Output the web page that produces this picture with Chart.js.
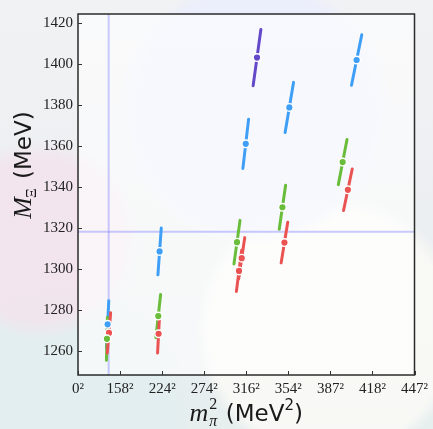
<!DOCTYPE html>
<html>
<head>
<meta charset="utf-8">
<script src="https://cdn.jsdelivr.net/npm/chart.js@4.4.1/dist/chart.umd.min.js"></script>
<style>
  html, body { margin: 0; padding: 0; }
  body {
    width: 433px; height: 429px; overflow: hidden;
    background:
      radial-gradient(circle at 255px 110px, rgba(235,238,252,0.9) 0, rgba(235,238,252,0.9) 120px, rgba(235,238,252,0) 135px),
      radial-gradient(circle at 40px 240px, rgba(244,226,236,0.8) 0, rgba(244,226,236,0.8) 80px, rgba(244,226,236,0) 100px),
      radial-gradient(circle at 330px 330px, rgba(250,250,246,0.9) 0, rgba(250,250,246,0.9) 120px, rgba(250,250,246,0) 135px),
      radial-gradient(circle at 60px 410px, rgba(226,238,240,0.9) 0, rgba(226,238,240,0.9) 110px, rgba(226,238,240,0) 130px),
      linear-gradient(180deg, #f1f2f4 0%, #eceff1 50%, #e6eeee 100%);
  }
  #wrap { position: absolute; left: 0; top: 0; width: 433px; height: 429px; }
</style>
</head>
<body>
<div id="wrap"><canvas id="c" width="433" height="429"></canvas></div>
<script>
// ---- data (x in MeV^2, y in MeV) ----
const blueX    = [17600, 48500, 99700, 125600, 165600];
const blueY    = [1273.2, 1308.7, 1361.1, 1378.8, 1401.9];
const blueYErr = [11.5, 11.4, 12.0, 12.2, 12.3];
const blueXErr = [700, 1000, 1700, 2500, 3060];

const purpleX    = [106400];
const purpleY    = [1403.1];
const purpleYErr = [13.7];
const purpleXErr = [2300];

const greenX    = [17200, 47700, 94500, 121500, 157300];
const greenY    = [1266.1, 1277.2, 1313.2, 1330.2, 1352.2];
const greenYErr = [10.4, 10.5, 10.6, 10.7, 11.0];
const greenXErr = [300, 1400, 1800, 1900, 2580];

const redX    = [18400, 47900, 95700, 97300, 122700, 160400];
const redY    = [1269.0, 1268.6, 1299.2, 1305.4, 1313.0, 1338.7];
const redYErr = [9.8, 9.4, 10.0, 10.0, 9.9, 10.1];
const redXErr = [1000, 600, 1550, 1800, 1960, 2580];

const physPionMass2 = 135 * 135;   // vertical reference line
const physXiMass    = 1318.3;      // horizontal reference line

const xTickValues = [0, 25000, 50000, 75000, 100000, 125000, 150000, 175000, 200000];
const yTickValues = [1260, 1280, 1300, 1320, 1340, 1360, 1380, 1400, 1420];

const COLORS = { blue: '#3f9ff7', purple: '#6349c9', green: '#69bd3a', red: '#eb5252' };

function makeSet(xs, ys, yerr, xerr, color) {
  return {
    data: xs.map((x, i) => ({ x: x, y: ys[i], yErr: yerr[i], xErr: xerr[i] })),
    backgroundColor: color,
    borderColor: '#ffffff',
    pointRadius: 3.8,
    pointBorderWidth: 1.4,
    pointHoverRadius: 3.8,
    showLine: false,
    errColor: color
  };
}

const errorBarPlugin = {
  id: 'errbars',
  beforeDraw(chart) {
    const { ctx, chartArea: a } = chart;
    ctx.save();
    ctx.fillStyle = 'rgba(255,255,255,0.6)';
    ctx.fillRect(a.left, a.top, a.right - a.left, a.bottom - a.top);
    ctx.restore();
  },
  beforeDatasetsDraw(chart) {
    const { ctx, chartArea: a, scales: { x, y } } = chart;
    ctx.save();
    ctx.beginPath();
    ctx.rect(a.left, a.top, a.right - a.left, a.bottom - a.top);
    ctx.clip();
    // reference lines
    ctx.strokeStyle = 'rgba(125,125,255,0.4)';
    ctx.lineWidth = 2;
    const vx = x.getPixelForValue(physPionMass2);
    ctx.beginPath(); ctx.moveTo(vx, a.top); ctx.lineTo(vx, a.bottom); ctx.stroke();
    const hy = y.getPixelForValue(physXiMass);
    ctx.beginPath(); ctx.moveTo(a.left, hy); ctx.lineTo(a.right, hy); ctx.stroke();
    // slanted error bars
    ctx.lineWidth = 3;
    ctx.lineCap = 'round';
    chart.data.datasets.forEach(ds => {
      ctx.strokeStyle = ds.errColor;
      ds.data.forEach(p => {
        ctx.beginPath();
        ctx.moveTo(x.getPixelForValue(p.x - p.xErr), y.getPixelForValue(p.y - p.yErr));
        ctx.lineTo(x.getPixelForValue(p.x + p.xErr), y.getPixelForValue(p.y + p.yErr));
        ctx.stroke();
      });
    });
    ctx.restore();
  },
  afterDraw(chart) {
    const { ctx, chartArea: a, scales: { x, y } } = chart;
    ctx.save();
    // frame
    ctx.strokeStyle = '#2b2b2b';
    ctx.lineWidth = 1.5;
    ctx.strokeRect(a.left, a.top, a.right - a.left, a.bottom - a.top);
    // inward ticks
    ctx.lineWidth = 1;
    ctx.strokeStyle = '#333';
    xTickValues.forEach(v => {
      const px = Math.round(x.getPixelForValue(v)) + 0.5;
      ctx.beginPath(); ctx.moveTo(px, a.bottom); ctx.lineTo(px, a.bottom - 4); ctx.stroke();
    });
    yTickValues.forEach(v => {
      const py = Math.round(y.getPixelForValue(v)) + 0.5;
      ctx.beginPath(); ctx.moveTo(a.left, py); ctx.lineTo(a.left + 4, py); ctx.stroke();
    });
    // axis titles
    ctx.fillStyle = '#1a1a1a';
    ctx.textBaseline = 'alphabetic';
    // x title: m_pi^2 (MeV^2)
    const fM = 'italic 26px "Liberation Serif"';
    const fSub = 'italic 16px "Liberation Serif"';
    const fSup = '16px "Liberation Serif"';
    const fSans = '23px "DejaVu Sans"';
    const fSansSup = '15px "DejaVu Sans"';
    ctx.font = fM; const wm = ctx.measureText('m').width;
    ctx.font = fSub; const wpi = ctx.measureText('π').width;
    ctx.font = fSans; const w1 = ctx.measureText(' (MeV').width; const w3 = ctx.measureText(')').width;
    ctx.font = fSansSup; const w2 = ctx.measureText('2').width;
    const total = wm + wpi + 2 + w1 + w2 + w3;
    let cx = (a.left + a.right) / 2 - total / 2;
    const by = 421;
    ctx.font = fM; ctx.fillText('m', cx, by); cx += wm + 1;
    ctx.font = fSup; ctx.fillText('2', cx, by - 12);
    ctx.font = fSub; ctx.fillText('π', cx, by + 5); cx += wpi + 1;
    ctx.font = fSans; ctx.fillText(' (MeV', cx, by); cx += w1;
    ctx.font = fSansSup; ctx.fillText('2', cx, by - 11); cx += w2;
    ctx.font = fSans; ctx.fillText(')', cx, by);
    // y title: M_Xi (MeV)
    ctx.save();
    ctx.translate(31, 165);
    ctx.rotate(-Math.PI / 2);
    const fMY = 'italic 26px "Liberation Serif"';
    const fXi = '15px "Liberation Serif"';
    ctx.font = fMY; const wM = ctx.measureText('M').width;
    ctx.font = fXi; const wXi = ctx.measureText('Ξ').width;
    ctx.font = fSans; const wU = ctx.measureText(' (MeV)').width;
    let tx = -(wM + wXi + wU + 1) / 2;
    ctx.font = fMY; ctx.fillText('M', tx, 0); tx += wM;
    ctx.font = fXi; ctx.fillText('Ξ', tx - 1, 5); tx += wXi + 1;
    ctx.font = fSans; ctx.fillText(' (MeV)', tx, 0);
    ctx.restore();
    ctx.restore();
  }
};

new Chart(document.getElementById('c'), {
  type: 'scatter',
  data: {
    datasets: [
      makeSet(blueX, blueY, blueYErr, blueXErr, COLORS.blue),
      makeSet(purpleX, purpleY, purpleYErr, purpleXErr, COLORS.purple),
      makeSet(greenX, greenY, greenYErr, greenXErr, COLORS.green),
      makeSet(redX, redY, redYErr, redXErr, COLORS.red)
    ]
  },
  options: {
    responsive: false,
    animation: false,
    events: [],
    layout: { padding: { top: 7, right: 18, left: 0, bottom: 0 } },
    plugins: { legend: { display: false }, tooltip: { enabled: false } },
    scales: {
      x: {
        type: 'linear',
        min: 0, max: 200000,
        afterFit: s => { s.height = 54; },
        afterBuildTicks: s => { s.ticks = xTickValues.map(v => ({ value: v })); },
        grid: { display: false, drawTicks: false },
        border: { display: false },
        ticks: {
          padding: 5,
          color: '#222',
          font: { family: '"Liberation Serif"', size: 15 },
          maxRotation: 0,
          autoSkip: false,
          callback: v => Math.round(Math.sqrt(v)) + '²'
        }
      },
      y: {
        type: 'linear',
        min: 1248.5, max: 1424.3,
        afterFit: s => { s.width = 78; },
        afterBuildTicks: s => { s.ticks = yTickValues.map(v => ({ value: v })); },
        grid: { display: false, drawTicks: false },
        border: { display: false },
        ticks: {
          padding: 5,
          color: '#222',
          font: { family: '"Liberation Serif"', size: 15 },
          autoSkip: false,
          callback: v => String(v)
        }
      }
    }
  },
  plugins: [errorBarPlugin]
});
</script>
</body>
</html>
